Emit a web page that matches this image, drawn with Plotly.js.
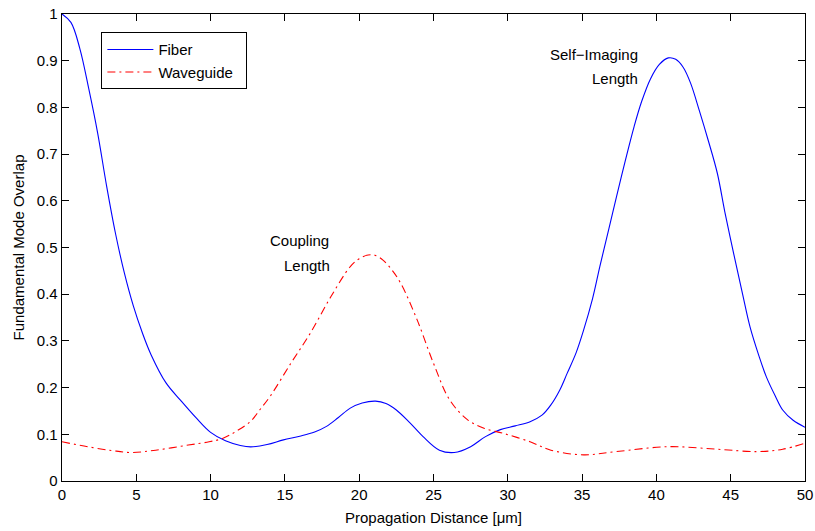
<!DOCTYPE html>
<html>
<head>
<meta charset="utf-8">
<script src="https://cdn.plot.ly/plotly-3.0.1.min.js"></script>
<style>
  html, body { margin: 0; padding: 0; background: #ffffff; }
  #chart { width: 815px; height: 531px; }
</style>
</head>
<body>
<div id="chart"></div>
<script>
// Propagation distance samples (µm) and fundamental-mode overlap for each structure
const fiberX = [0, 0.6, 1.2, 1.8, 2.4, 3.0, 3.6, 4.2, 4.8, 5.4, 6.0, 7.0, 8.0, 9.0, 10.0, 11.0, 12.0, 12.7,
  13.8, 14.9, 16.0, 17.0, 17.8, 18.6, 19.4, 20.2, 21.1, 21.8, 22.5, 23.4, 24.3, 25.4, 26.4, 27.5,
  28.5, 29.5, 30.5, 31.5, 32.3, 32.9, 33.5, 34.0, 34.6, 35.1, 35.7, 36.2, 36.8, 37.3, 37.9, 38.5,
  39.0, 39.6, 40.2, 40.8, 41.3, 41.8, 42.3, 42.9, 43.5, 44.1, 44.6, 45.2, 45.8, 46.3, 46.9, 47.4,
  48.0, 48.5, 49.2, 50];
const fiberY = [1.0, 0.982, 0.926, 0.840, 0.745, 0.632, 0.530, 0.445, 0.375, 0.318, 0.270, 0.210, 0.172, 0.136, 0.104, 0.086, 0.076, 0.073,
  0.078, 0.088, 0.096, 0.105, 0.117, 0.136, 0.156, 0.167, 0.171, 0.166, 0.152, 0.125, 0.095, 0.066, 0.061, 0.0735,
  0.095, 0.110, 0.118, 0.127, 0.141, 0.163, 0.195, 0.231, 0.275, 0.323, 0.390, 0.460, 0.540, 0.607, 0.685, 0.759,
  0.812, 0.861, 0.892, 0.906, 0.903, 0.886, 0.852, 0.792, 0.728, 0.659, 0.577, 0.487, 0.400, 0.330, 0.268, 0.223,
  0.182, 0.152, 0.130, 0.115];

const guideX = [0, 1.8, 3.4, 4.7, 6.3, 8.5, 9.9, 10.8, 11.7, 12.7, 13.3, 14.0, 15.4, 16.7, 18.1, 19.4, 20.0, 20.6,
  21.1, 21.6, 22.2, 22.8, 23.9, 25.0, 26.1, 27.3, 28.4, 29.7, 31.5, 32.9, 35.1, 37.3, 40.8, 44.1, 46.8, 48.5, 50];
const guideY = [0.084, 0.073, 0.065, 0.061, 0.066, 0.077, 0.084, 0.091, 0.106, 0.128, 0.152, 0.181, 0.252, 0.316, 0.395, 0.459, 0.476, 0.484,
  0.483, 0.473, 0.452, 0.423, 0.345, 0.252, 0.173, 0.131, 0.113, 0.102, 0.084, 0.066, 0.056, 0.063, 0.0735, 0.068, 0.063, 0.068, 0.081];

const xTicks = [0, 5, 10, 15, 20, 25, 30, 35, 40, 45, 50];
const yTicks = [0, 0.1, 0.2, 0.3, 0.4, 0.5, 0.6, 0.7, 0.8, 0.9, 1];

const FONT = '"Liberation Sans", Arial, Helvetica, sans-serif';

const traces = [
  {
    x: fiberX, y: fiberY, name: 'Fiber', type: 'scatter', mode: 'lines',
    legendgroup: 'fiber',
    line: { color: '#0000ff', width: 1.1, shape: 'spline', smoothing: 1 }
  },
  {
    x: guideX, y: guideY, name: 'Waveguide\u00a0\u00a0', type: 'scatter', mode: 'lines',
    legendgroup: 'guide',
    line: { color: '#ff0000', width: 1.1, shape: 'spline', smoothing: 1, dash: '8px,4px,2px,4px' }
  }
];

const axisCommon = {
  showgrid: false, zeroline: false,
  showline: true, linecolor: '#000000', linewidth: 1.3,
  mirror: 'ticks', ticks: 'inside', ticklen: 7, tickcolor: '#000000', tickwidth: 1,
  tickfont: { family: FONT, size: 15, color: '#000000' },
  fixedrange: true
};

const layout = {
  width: 815, height: 531,
  margin: { l: 61.5, r: 10, t: 14, b: 50 },
  paper_bgcolor: '#ffffff', plot_bgcolor: '#ffffff',
  font: { family: FONT, size: 15, color: '#000000' },
  showlegend: true,
  legend: {
    x: 0.053, y: 0.961, xanchor: 'left', yanchor: 'top',
    bgcolor: '#ffffff', bordercolor: '#000000', borderwidth: 1,
    font: { family: FONT, size: 15, color: '#000000' },
    itemwidth: 46,
    tracegroupgap: 0
  },
  xaxis: Object.assign({}, axisCommon, {
    range: [0, 50], tickvals: xTicks, ticktext: xTicks.map(String),
    title: { text: 'Propagation Distance [\u03bcm]', font: { family: FONT, size: 15, color: '#000000' }, standoff: 10 }
  }),
  yaxis: Object.assign({}, axisCommon, {
    range: [0, 1], tickvals: yTicks, ticktext: yTicks.map(String),
    title: { text: 'Fundamental Mode Overlap', font: { family: FONT, size: 15, color: '#000000' }, standoff: 8 }
  }),
  annotations: [
    { x: 18.1, y: 0.514, xref: 'x', yref: 'y', text: 'Coupling', showarrow: false, xanchor: 'right', yanchor: 'middle', font: { family: FONT, size: 15, color: '#000000' } },
    { x: 18.2, y: 0.4625, xref: 'x', yref: 'y', text: 'Length', showarrow: false, xanchor: 'right', yanchor: 'middle', font: { family: FONT, size: 15, color: '#000000' } },
    { x: 38.9, y: 0.914, xref: 'x', yref: 'y', text: 'Self\u2212Imaging', showarrow: false, xanchor: 'right', yanchor: 'middle', font: { family: FONT, size: 15, color: '#000000' } },
    { x: 38.9, y: 0.861, xref: 'x', yref: 'y', text: 'Length', showarrow: false, xanchor: 'right', yanchor: 'middle', font: { family: FONT, size: 15, color: '#000000' } }
  ]
};

Plotly.newPlot('chart', traces, layout, { displayModeBar: false, staticPlot: true });
</script>
</body>
</html>
